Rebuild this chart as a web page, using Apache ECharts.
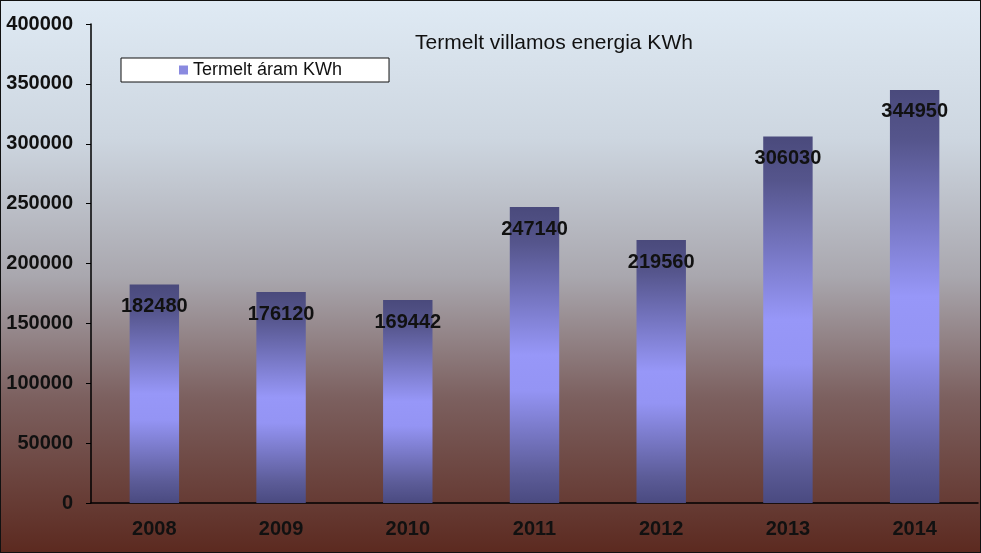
<!DOCTYPE html>
<html><head><meta charset="utf-8">
<script src="https://cdn.jsdelivr.net/npm/echarts@6/dist/echarts.min.js"></script>
<style>html,body{margin:0;padding:0;}#c{width:981px;height:553px;box-sizing:border-box;border:1px solid #111;}</style>
</head><body><div id="c"></div>
<script>
const years = ['2008','2009','2010','2011','2012','2013','2014'];
const produced = [182480, 176120, 169442, 247140, 219560, 306030, 344950];
const yTicks = [0, 50000, 100000, 150000, 200000, 250000, 300000, 350000, 400000];
const titleText = 'Termelt villamos energia KWh';
const seriesName = 'Termelt áram KWh';

const chart = echarts.init(document.getElementById('c'), null, {renderer:'canvas'});
const barGrad = new echarts.graphic.LinearGradient(0,0,0,1,[
  {offset:0, color:'#4a4a7c'},
  {offset:0.12, color:'#55558c'},
  {offset:0.5, color:'#9797f8'},
  {offset:0.62, color:'#9494f4'},
  {offset:0.9, color:'#5c5c98'},
  {offset:1, color:'#4a4a80'}
]);
chart.setOption({
  animation:false,
  backgroundColor: new echarts.graphic.LinearGradient(0,0,0,1,[
    {offset:0, color:'#dfeaf4'},
    {offset:0.25, color:'#cdd6e0'},
    {offset:0.5, color:'#a9a7ae'},
    {offset:0.72, color:'#7c605f'},
    {offset:1, color:'#5c2a20'}
  ]),
  title:{text:titleText, left:548, top:27, textAlign:'center',
    textStyle:{fontFamily:'Liberation Sans, Arial', fontSize:21, fontWeight:'normal', color:'#111'}},
  legend:{left:120, top:57, padding:[3,47,3,58],
    backgroundColor:'#fff', borderColor:'#111', borderWidth:1,
    itemWidth:9, itemHeight:9, icon:'rect', itemGap:6,
    data:[{name:seriesName, itemStyle:{color:'#8a8ae0'}}],
    textStyle:{fontFamily:'Liberation Sans, Arial', fontSize:18, color:'#111'}},
  grid:{left:90, right:2, top:23, bottom:49, containLabel:false},
  xAxis:{type:'category', data:years,
    axisLine:{lineStyle:{color:'#000', width:1.5}},
    axisTick:{show:false},
    axisLabel:{fontFamily:'Liberation Sans, Arial', fontSize:20, fontWeight:'bold', color:'#111', margin:16}},
  yAxis:{type:'value', min:0, max:400000, interval:50000,
    axisLine:{show:true, lineStyle:{color:'#000', width:1.5}},
    axisTick:{show:true, inside:false, length:5, lineStyle:{color:'#000'}},
    splitLine:{show:false},
    axisLabel:{fontFamily:'Liberation Sans, Arial', fontSize:20, fontWeight:'bold', color:'#111', margin:18,
      formatter:v=>yTicks.includes(v)?String(v):''}},
  series:[{name:seriesName, type:'bar', data:produced, barWidth:'39%',
    itemStyle:{color:barGrad},
    label:{show:true, position:'insideTop', distance:12,
      fontFamily:'Liberation Sans, Arial', fontSize:20, fontWeight:'bold', color:'#111'}}]
});
</script></body></html>
